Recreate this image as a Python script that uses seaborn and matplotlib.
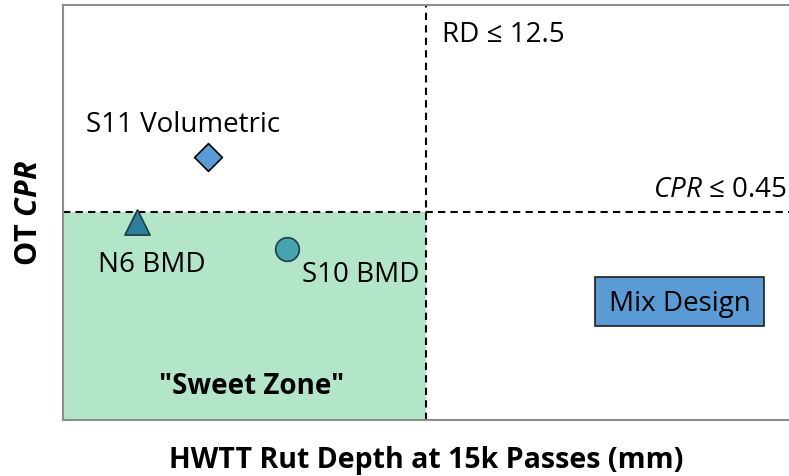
import numpy as np
import pandas as pd
import seaborn as sns
import matplotlib.pyplot as plt
from matplotlib.patches import Rectangle

# mixes plotted on the rut depth / CPR plane
mixes = ["S11 Volumetric", "N6 BMD", "S10 BMD"]
rut_depth = [5.0, 2.55, 7.7]
ot_cpr = [0.57, 0.43, 0.37]
marker_shapes = {"S11 Volumetric": "D", "N6 BMD": "^", "S10 BMD": "o"}
marker_colors = {"S11 Volumetric": "#5B9BD5", "N6 BMD": "#2F7F9C", "S10 BMD": "#45A4AE"}
marker_sizes = {"S11 Volumetric": 200, "N6 BMD": 330, "S10 BMD": 290}

# criteria
rd_limit = 12.5
cpr_limit = 0.45

sns.set_style("white")
plt.rcParams['font.family'] = ['Open Sans', 'DejaVu Sans']
plt.rcParams['text.color'] = 'black'
plt.rcParams['axes.labelcolor'] = 'black'
plt.rcParams['mathtext.fontset'] = 'custom'
plt.rcParams['mathtext.it'] = 'Open Sans:italic'
plt.rcParams['mathtext.bf'] = 'Open Sans:bold'
plt.rcParams['mathtext.bfit'] = 'Open Sans:bold:italic'
plt.rcParams['mathtext.rm'] = 'Open Sans'

fig = plt.figure(figsize=(7.89, 4.76), dpi=100)
ax = fig.add_axes([63/789, 56/476, 1 - 63/789, 415/476])

df = pd.DataFrame({"mix": mixes, "rd": rut_depth, "cpr": ot_cpr})

# sweet zone
ax.add_patch(Rectangle((0, 0), rd_limit, cpr_limit, facecolor="#B3E6C8", edgecolor="none", zorder=0))
ax.axvline(rd_limit, color="black", ls=(0, (3.5, 2.5)), lw=1.5, zorder=1)
ax.axhline(cpr_limit, color="black", ls=(0, (3.5, 2.5)), lw=1.5, zorder=1)

for m in mixes:
    sub = df[df["mix"] == m]
    sns.scatterplot(data=sub, x="rd", y="cpr", marker=marker_shapes[m], color=marker_colors[m],
                    s=marker_sizes[m], edgecolor="#1C3F45" if m != "S11 Volumetric" else "black",
                    linewidth=1.2, ax=ax, legend=False, zorder=3)

ax.set_xlim(0, 25)
ax.set_ylim(0, 0.9)
ax.set_xticks([])
ax.set_yticks([])

fs = 20
ax.text(4.13, 0.640, "S11 Volumetric", fontsize=fs, ha="center", va="center")
ax.text(3.06, 0.337, "N6 BMD", fontsize=fs, ha="center", va="center")
ax.text(10.26, 0.315, "S10 BMD", fontsize=fs, ha="center", va="center")
ax.text(6.51, 0.073, '"Sweet Zone"', fontsize=fs, fontweight="bold", ha="center", va="center")
ax.text(13.05, 0.834, "RD ≤ 12.5", fontsize=fs, ha="left", va="center")
ax.text(24.93, 0.498, r"$\it{CPR}$ ≤ 0.45", fontsize=fs, ha="right", va="center")

# mix design label box
ax.add_patch(Rectangle((18.32, 0.204), 5.82, 0.106, facecolor="#5B9BD5", edgecolor="#1F1F1F",
                       lw=1.2, zorder=2))
ax.text(21.23, 0.252, "Mix Design", fontsize=fs, ha="center", va="center", zorder=3)

ax.set_xlabel("HWTT Rut Depth at 15k Passes (mm)", fontsize=20.5, fontweight="bold", labelpad=19)
ax.set_ylabel(r"OT $\mathbfit{CPR}$", fontsize=22, fontweight="bold", labelpad=14)

for side in ["left", "top", "bottom"]:
    ax.spines[side].set_color("#8C8C8C")
    ax.spines[side].set_linewidth(1.5)
ax.spines["right"].set_visible(False)

plt.savefig("out.png", dpi=100)
